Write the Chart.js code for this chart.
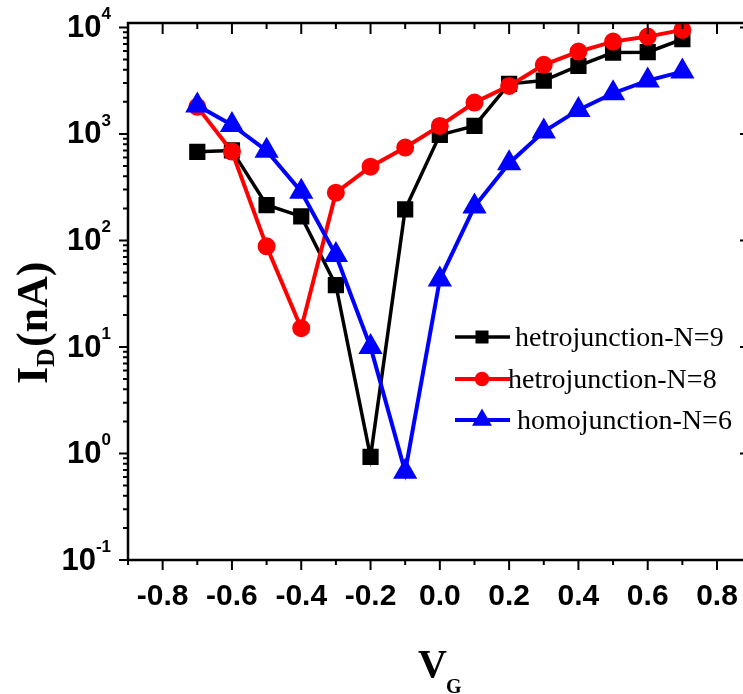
<!DOCTYPE html>
<html>
<head>
<meta charset="utf-8">
<script src="https://cdn.jsdelivr.net/npm/chart.js@4"></script>
<style>
  body { margin: 0; background: #fff; }
  canvas { display: block; }
</style>
</head>
<body>
<canvas id="chart" width="743" height="694"></canvas>
<script>
// gate voltage (V) and drain current (nA)
const vg = [-0.7, -0.6, -0.5, -0.4, -0.3, -0.2, -0.1, 0.0, 0.1, 0.2, 0.3, 0.4, 0.5, 0.6, 0.7];
const hetroN9 = [680, 700, 215, 168, 38, 0.93, 196, 980, 1190, 2950, 3170, 4350, 5810, 5850, 7740];
const hetroN8 = [1795, 683, 88, 15, 281, 493, 745, 1190, 1970, 2825, 4450, 5930, 7360, 8200, 9480];
const homoN6 = [1850, 1215, 697, 287, 73, 10, 0.675, 43, 208, 531, 1052, 1680, 2410, 3170, 3850];
const seriesNames = ['hetrojunction-N=9', 'hetrojunction-N=8', 'homojunction-N=6'];
const xTickLabels = ['-0.8', '-0.6', '-0.4', '-0.2', '0.0', '0.2', '0.4', '0.6', '0.8'];
const decades = [-1, 0, 1, 2, 3, 4];

const toPts = ys => vg.map((v, i) => ({ x: v, y: ys[i] }));

// frame, ticks, tick labels, axis titles and legend
const decor = {
  id: 'decor',
  afterDraw(chart) {
    const { ctx, chartArea: a, scales: { x, y } } = chart;
    ctx.save();
    ctx.strokeStyle = '#000';
    ctx.fillStyle = '#000';
    ctx.lineWidth = 2.5;
    ctx.beginPath();
    ctx.moveTo(a.left, a.bottom); ctx.lineTo(a.right, a.bottom);
    ctx.moveTo(a.left, a.bottom); ctx.lineTo(a.left, a.top);
    ctx.lineTo(a.right, a.top);
    ctx.stroke();

    ctx.lineWidth = 2;
    ctx.beginPath();
    for (let i = -9; i <= 8; i++) {
      const px = x.getPixelForValue(i / 10);
      const len = i % 2 === 0 ? 10 : 5;
      ctx.moveTo(px, a.bottom); ctx.lineTo(px, a.bottom + len);
      ctx.moveTo(px, a.top); ctx.lineTo(px, a.top + len + 1);
    }
    decades.forEach(e => {
      for (let m = 1; m <= 9; m++) {
        if (e === 4 && m > 1) break;
        const py = y.getPixelForValue(m * Math.pow(10, e));
        const len = m === 1 ? 9 : 5;
        ctx.moveTo(a.left, py); ctx.lineTo(a.left - len, py);
        if (m === 1) { ctx.moveTo(a.right, py); ctx.lineTo(a.right - 3, py); }
      }
    });
    ctx.stroke();

    // x tick labels
    ctx.font = 'bold 30px "Liberation Sans", Arial, sans-serif';
    ctx.textAlign = 'center';
    ctx.textBaseline = 'middle';
    xTickLabels.forEach(t => {
      ctx.fillText(t, x.getPixelForValue(parseFloat(t)), 597);
    });

    // y tick labels 10^n
    decades.forEach(e => {
      const py = y.getPixelForValue(Math.pow(10, e));
      const exp = String(e);
      ctx.font = 'bold 17px "Liberation Sans", Arial, sans-serif';
      const we = ctx.measureText(exp).width;
      ctx.textAlign = 'left';
      ctx.textBaseline = 'middle';
      ctx.fillText(exp, 111 - we, py - 13);
      ctx.font = 'bold 31px "Liberation Sans", Arial, sans-serif';
      ctx.textAlign = 'right';
      ctx.fillText('10', 111 - we, py + 1);
    });

    // y title I_D(nA)
    ctx.save();
    ctx.translate(47, 384);
    ctx.rotate(-Math.PI / 2);
    ctx.textAlign = 'left';
    ctx.textBaseline = 'alphabetic';
    ctx.font = 'bold 44px "Liberation Serif", "Times New Roman", serif';
    ctx.fillText('I', 0, 0);
    let off = ctx.measureText('I').width;
    ctx.font = 'bold 26px "Liberation Serif", "Times New Roman", serif';
    ctx.fillText('D', off, 7);
    off += ctx.measureText('D').width + 1;
    ctx.font = 'bold 44px "Liberation Serif", "Times New Roman", serif';
    ctx.fillText('(nA)', off, 0);
    ctx.restore();

    // x title V_G
    ctx.textAlign = 'left';
    ctx.textBaseline = 'alphabetic';
    ctx.font = 'bold 40px "Liberation Serif", "Times New Roman", serif';
    ctx.fillText('V', 418, 677);
    ctx.font = 'bold 20px "Liberation Serif", "Times New Roman", serif';
    ctx.fillText('G', 446, 693);

    // legend
    const rows = [
      { lineY: 337, textX: 515, baseY: 346 },
      { lineY: 379, textX: 508, baseY: 388 },
      { lineY: 420, textX: 517, baseY: 429 }
    ];
    chart.data.datasets.forEach((ds, i) => {
      const r = rows[i];
      ctx.strokeStyle = ds.borderColor;
      ctx.lineWidth = ds.borderWidth;
      ctx.beginPath();
      ctx.moveTo(455, r.lineY); ctx.lineTo(510, r.lineY);
      ctx.stroke();
      Chart.helpers.drawPoint(ctx, {
        pointStyle: ds.pointStyle, radius: ds.pointRadius * 0.75, borderWidth: 1
      }, 482, r.lineY);
      ctx.fillStyle = ds.borderColor;
      ctx.fill();
      ctx.fillStyle = '#000';
      ctx.font = '28px "Liberation Serif", "Times New Roman", serif';
      ctx.fillText(ds.label, r.textX, r.baseY);
    });
    ctx.restore();
  }
};

const ctx = document.getElementById('chart').getContext('2d');
new Chart(ctx, {
  type: 'line',
  data: {
    datasets: [
      {
        label: seriesNames[0], data: toPts(hetroN9), order: 3,
        borderColor: '#000000', backgroundColor: '#000000',
        borderWidth: 3.5, pointStyle: 'rect', pointRadius: 9, pointHoverRadius: 9
      },
      {
        label: seriesNames[1], data: toPts(hetroN8), order: 2,
        borderColor: '#ff0000', backgroundColor: '#ff0000',
        borderWidth: 4, pointStyle: 'circle', pointRadius: 7, pointHoverRadius: 7
      },
      {
        label: seriesNames[2], data: toPts(homoN6), order: 1,
        borderColor: '#0000ff', backgroundColor: '#0000ff',
        borderWidth: 4, pointStyle: 'triangle', pointRadius: 10, pointHoverRadius: 10
      }
    ]
  },
  options: {
    responsive: false,
    animation: false,
    layout: { autoPadding: false, padding: { top: 23, right: 0, bottom: 0, left: 0 } },
    plugins: { legend: { display: false }, tooltip: { enabled: false } },
    elements: { line: { tension: 0 } },
    scales: {
      x: {
        type: 'linear',
        min: -0.9,
        max: 0.875,
        grid: { display: false },
        border: { display: false },
        ticks: { display: false },
        afterFit: s => { s.height = 134; }
      },
      y: {
        type: 'logarithmic',
        min: 0.1,
        max: 11000,
        grid: { display: false },
        border: { display: false },
        ticks: { display: false },
        afterFit: s => { s.width = 128; }
      }
    }
  },
  plugins: [decor]
});
</script>
</body>
</html>
